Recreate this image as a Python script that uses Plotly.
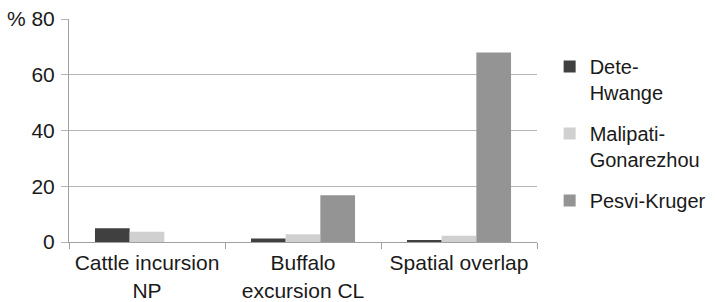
import plotly.graph_objects as go

categories = ["Cattle incursion<br>NP", "Buffalo<br>excursion CL", "Spatial overlap"]
series_names = ["Dete-<br>Hwange", "Malipati-<br>Gonarezhou", "Pesvi-Kruger"]
dete = [4.9, 1.3, 0.6]
malipati = [3.7, 2.8, 2.2]
pesvi = [0.0, 16.8, 68.0]
y_tickvals = [0, 20, 40, 60, 80]
y_ticktext = ["0", "20", "40", "60", "% 80"]

colors = ["#404040", "#d0d0d0", "#949494"]
fig = go.Figure()
for i, (name, vals, c) in enumerate(zip(series_names, [dete, malipati, pesvi], colors)):
    fig.add_trace(go.Bar(x=categories, y=vals, name=name, legendgroup=f"g{i}",
                         marker=dict(color=c, line=dict(width=0))))

fig.update_layout(
    width=715, height=302,
    margin=dict(l=69, r=178, t=19, b=60, autoexpand=False),
    paper_bgcolor="white", plot_bgcolor="white",
    font=dict(family="Liberation Sans, Arial, sans-serif", size=21, color="#1a1a1a"),
    barmode="group", bargap=0.333, bargroupgap=0,
    showlegend=True,
    legend=dict(x=1.027, y=0.875, xanchor="left", yanchor="top", valign="top",
                font=dict(size=20), tracegroupgap=12, itemwidth=30,
                traceorder="grouped", bgcolor="rgba(0,0,0,0)"),
)
fig.update_xaxes(showgrid=False, showline=True, linecolor="#a0a0a0", linewidth=1,
                 ticks="outside", tickson="boundaries", ticklen=6, tickcolor="#a0a0a0",
                 ticklabelstandoff=2, automargin=False, fixedrange=True)
fig.update_yaxes(range=[0, 80], tickvals=y_tickvals, ticktext=y_ticktext,
                 showgrid=True, gridcolor="#b4b4b4", gridwidth=1,
                 showline=True, linecolor="#a0a0a0", linewidth=1,
                 ticks="outside", ticklen=7, tickcolor="#b4b4b4",
                 ticklabelstandoff=2, automargin=False, zeroline=False, fixedrange=True)
fig.write_html("out.html", config={"displayModeBar": False},
               post_script="document.body.style.margin='0';document.body.style.overflow='hidden';")
